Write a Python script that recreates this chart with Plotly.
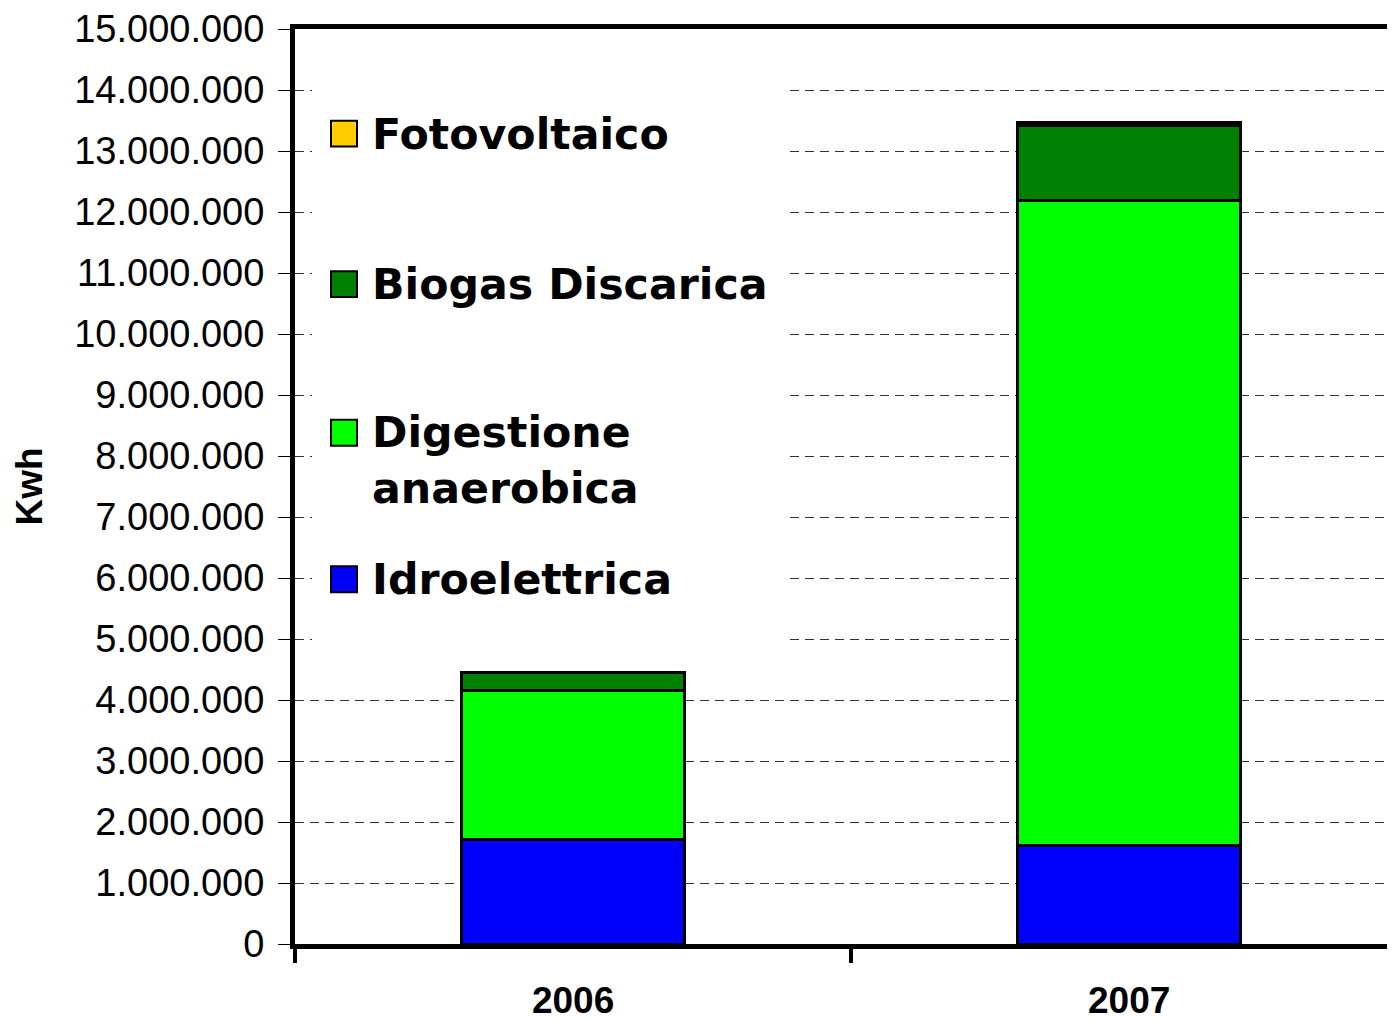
import plotly.graph_objects as go

# ---- data ----
years = ["2006", "2007"]
idroelettrica = [1715000, 1613000]
digestione = [2440000, 10577000]
biogas_discarica = [289000, 1225000]
fotovoltaico = [3000, 45000]

series_names = ["Idroelettrica", "Digestione<br>anaerobica", "Biogas Discarica", "Fotovoltaico"]
series_values = [idroelettrica, digestione, biogas_discarica, fotovoltaico]
series_colors = ["#0000FF", "#00FF00", "#008000", "#FFCC00"]
y_tick_values = list(range(0, 15000001, 1000000))

# ---- layout geometry (page has an 8px body margin) ----
OFF = 8
W, H = 1395 - OFF, 1021 - OFF
L, T = 295 - OFF, 28 - OFF
PLOT_BOTTOM = 946 - OFF
R, B = 0, H - PLOT_BOTTOM
PW, PH = W - L - R, H - T - B


def fx(x):
    # x given in page pixels
    return (x - OFF - L) / PW


def fy(y):
    # y given in page pixels
    return (PLOT_BOTTOM - (y - OFF)) / PH


fig = go.Figure()
for name, vals, col in zip(series_names, series_values, series_colors):
    fig.add_trace(go.Bar(
        x=years, y=vals, name=name.replace("<br>", " "),
        marker=dict(color=col, line=dict(color="black", width=3)),
        width=0.4, showlegend=False,
    ))

shapes = [dict(type="rect", xref="paper", yref="paper",
               x0=fx(312), x1=fx(785), y0=fy(658), y1=fy(34),
               fillcolor="white", line=dict(width=0), layer="above")]
annotations = []
legend_centers = [580, 460, 284, 133]
marker_centers = [580, 433, 284, 133]
for name, col, cy, my in zip(series_names, series_colors, legend_centers, marker_centers):
    shapes.append(dict(type="rect", xref="paper", yref="paper",
                       x0=fx(331), x1=fx(357), y0=fy(my + 13), y1=fy(my - 13),
                       fillcolor=col, line=dict(color="black", width=2), layer="above"))
    annotations.append(dict(xref="paper", yref="paper", x=fx(370), y=fy(cy),
                            xanchor="left", yanchor="middle", align="left",
                            text=name, showarrow=False,
                            font=dict(family="DejaVu Sans", size=42.7, weight="bold", color="black")))

fig.update_layout(
    width=W, height=H,
    margin=dict(l=L, r=R, t=T, b=B, pad=0),
    barmode="stack",
    plot_bgcolor="white", paper_bgcolor="white",
    separators=",.",
    shapes=shapes, annotations=annotations,
    showlegend=False,
)
fig.update_xaxes(
    type="category", range=[-0.5, 1.478],
    tickson="boundaries", ticks="outside", ticklen=14, tickwidth=4, tickcolor="black",
    showline=True, linewidth=5, linecolor="black", mirror=True,
    showgrid=False,
    tickfont=dict(family="Liberation Sans", size=37, weight="bold", color="black"),
    ticklabelstandoff=20,
)
fig.update_yaxes(
    range=[0, 15000000], tickvals=y_tick_values, tickformat=",d",
    ticks="outside", ticklen=12, tickwidth=1, tickcolor="black",
    showline=True, linewidth=5, linecolor="black", mirror=False,
    showgrid=True, gridcolor="#333333", gridwidth=1, griddash="9px,6px",
    zeroline=False,
    tickfont=dict(family="Liberation Sans", size=38, color="black"),
    ticklabelstandoff=6, ticklabeloverflow="allow",
    title=dict(text="Kwh", standoff=22,
               font=dict(family="Liberation Sans", size=37, weight="bold", color="black")),
)

fig.write_html("out.html")
